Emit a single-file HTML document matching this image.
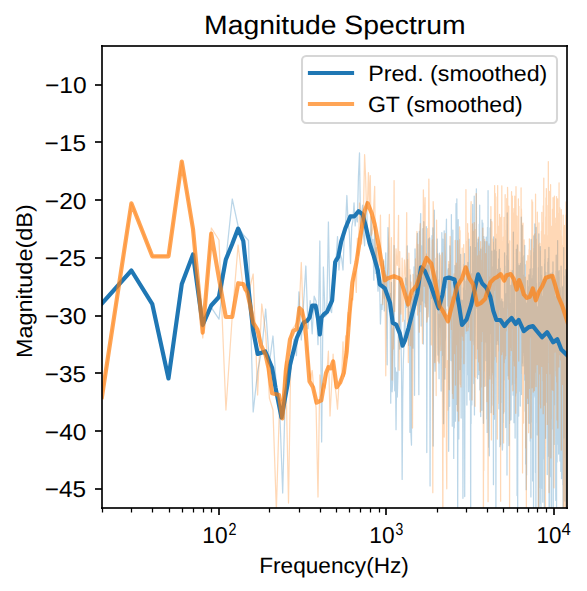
<!DOCTYPE html>
<html><head><meta charset="utf-8"><title>Magnitude Spectrum</title><style>
html,body{margin:0;padding:0;background:#fff;}
svg{display:block;}
text{font-family:"Liberation Sans",sans-serif;fill:#000;text-rendering:geometricPrecision;}
</style></head><body>
<svg width="587" height="591" viewBox="0 0 587 591">
<rect width="587" height="591" fill="#fff"/>
<defs><clipPath id="ax"><rect x="102.0" y="46.0" width="465.00" height="462.00"/></clipPath></defs>
<g clip-path="url(#ax)" fill="none" stroke-linejoin="round" stroke-linecap="square">
<polyline points="101.92,303.6 131.42,270.5 152.35,304.4 168.58,377.9 181.84,283.9 193.05,254.9 202.77,327.3 211.34,307.6 219.00,319.2 225.93,259.6 232.26,199.0 238.09,226.0 243.48,235.0 248.50,240.5 253.19,412.0 257.60,371.7 261.76,350.0 265.69,309.0 269.42,362.8 272.97,336.0 276.36,385.9 279.59,405.8 282.69,493.0 285.65,378.3 288.51,370.0 291.25,368.9 293.90,339.1 296.45,355.6 298.92,291.8 301.30,340.0 303.61,302.6 305.85,266.0 308.02,328.7 310.13,300.6 312.18,333.8 314.17,296.2 316.11,301.2 318.00,344.7 319.85,241.0 321.64,442.0 323.39,267.0 325.11,316.7 326.78,314.7 328.41,222.0 330.01,309.3 331.58,312.6 333.11,283.5 334.61,258.9 336.08,260.1 337.52,236.6 338.93,270.0 340.32,254.5 341.68,258.7 343.01,270.0 344.32,234.2 345.61,224.9 346.87,195.5 348.12,223.0 349.34,231.9 350.54,263.6 351.73,227.2 352.89,220.6 354.04,202.8 355.16,225.9 356.27,214.0 357.37,221.8 358.45,176.2 359.51,152.9 360.55,228.1 361.59,214.1 362.60,205.2 363.61,235.6 364.60,245.8 365.57,209.0 366.54,201.5 367.49,234.5 368.43,240.2 369.35,246.5 370.27,247.0 371.17,216.7 372.06,254.6 372.95,239.3 373.82,280.2 374.68,226.4 375.53,273.5 376.37,247.7 377.20,277.3 378.02,291.1 378.84,280.4 379.64,283.9 380.43,324.0 381.22,304.3 382.00,309.4 382.77,290.1 383.53,261.0 384.28,310.9 385.03,275.5 385.77,252.8 386.50,302.5 387.22,364.8 387.94,227.6 388.65,245.8 389.35,311.6 390.05,293.3 390.74,403.2 391.42,282.3 392.10,391.8 392.77,380.0 393.43,317.9 394.09,245.5 394.74,390.8 395.39,367.8 396.03,429.7 396.67,372.2 397.30,397.0 397.92,374.5 398.54,317.9 399.15,268.4 399.76,349.1 400.37,281.2 400.97,338.9 401.56,371.6 402.15,479.4 402.73,398.4 403.31,363.3 403.89,346.0 404.46,320.4 405.02,343.4 405.59,277.8 406.14,291.2 406.70,307.4 407.25,245.9 407.79,304.9 408.33,306.4 408.87,345.4 409.40,312.1 409.93,432.3 410.45,275.0 410.98,434.8 411.49,445.1 412.01,296.6 412.52,304.9 413.03,348.2 413.53,290.8 414.03,266.9 414.53,395.3 415.02,248.8 415.51,284.9 416.00,305.2 416.48,275.2 416.96,279.0 417.44,233.4 417.91,282.3 418.38,329.9 418.85,394.7 419.31,231.3 419.78,311.7 420.23,236.8 420.69,213.6 421.14,326.0 421.59,245.9 422.04,300.9 422.49,273.6 422.93,228.7 423.37,344.0 423.81,221.7 424.24,302.6 424.67,272.5 425.10,306.6 425.53,266.2 425.95,303.4 426.37,226.6 426.79,452.5 427.21,313.1 427.62,265.5 428.04,283.9 428.45,238.9 428.85,309.5 429.26,316.4 429.66,237.9 430.06,485.9 430.46,311.2 430.86,280.2 431.25,282.1 431.64,298.3 432.03,235.7 432.42,284.5 432.81,227.8 433.19,446.0 433.57,358.8 433.95,279.2 434.33,210.2 434.71,356.2 435.08,371.2 435.45,350.4 435.82,276.1 436.19,293.8 436.56,270.7 436.92,287.9 437.29,239.0 437.65,301.2 438.01,355.1 438.36,280.1 438.72,342.4 439.07,378.7 439.43,253.0 439.78,327.0 440.12,317.2 440.47,312.5 440.82,338.0 441.16,391.1 441.50,330.5 441.84,232.7 442.18,319.9 442.52,355.3 442.86,239.1 443.19,387.4 443.52,423.7 443.86,350.2 444.19,230.8 444.51,257.1 444.84,379.0 445.17,342.5 445.49,336.3 445.81,258.3 446.13,234.7 446.45,219.2 446.77,287.5 447.09,269.9 447.41,276.4 447.72,305.9 448.03,279.0 448.34,268.6 448.65,451.3 448.96,354.0 449.27,264.5 449.58,406.3 449.88,245.8 450.19,304.8 450.49,255.3 450.79,302.5 451.09,360.6 451.39,214.6 451.69,292.2 451.98,302.0 452.28,426.2 452.57,270.0 452.86,230.1 453.15,318.5 453.45,276.8 453.73,458.4 454.02,352.8 454.31,427.8 454.60,293.4 454.88,265.6 455.16,276.3 455.45,421.2 455.73,395.5 456.01,203.6 456.29,363.9 456.57,404.3 456.84,198.9 457.12,262.6 457.39,252.7 457.67,525.4 457.94,403.8 458.21,219.5 458.48,253.7 458.75,438.9 459.02,239.5 459.29,266.7 459.56,367.8 459.82,369.6 460.09,323.5 460.35,368.8 460.62,254.4 460.88,338.8 461.14,418.0 461.40,311.0 461.66,336.6 461.92,300.0 462.17,300.5 462.43,342.6 462.69,372.8 462.94,498.3 463.20,431.0 463.45,287.8 463.70,348.9 463.95,264.6 464.20,360.7 464.45,253.5 464.70,496.5 464.95,374.1 465.20,344.5 465.44,290.3 465.69,333.5 465.93,281.2 466.17,281.2 466.42,293.3 466.66,266.4 466.90,405.1 467.14,272.1 467.38,374.8 467.62,293.2 467.86,262.5 468.10,293.6 468.33,316.8 468.57,391.7 468.80,347.6 469.04,239.2 469.27,360.1 469.50,364.9 469.74,364.7 469.97,400.1 470.20,379.5 470.43,246.7 470.66,538.0 470.88,354.6 471.11,423.4 471.34,273.9 471.57,367.6 471.79,404.9 472.02,378.5 472.24,336.5 472.46,267.7 472.69,204.5 472.91,333.9 473.13,262.1 473.35,341.0 473.57,295.1 473.79,383.5 474.01,290.1 474.23,196.0 474.45,414.9 474.66,277.8 474.88,358.7 475.09,340.0 475.31,315.2 475.52,247.5 475.74,266.3 475.95,295.3 476.16,267.2 476.37,188.8 476.58,306.0 476.80,308.2 477.01,302.9 477.21,243.1 477.42,335.0 477.63,378.7 477.84,299.6 478.05,239.0 478.25,244.0 478.46,373.9 478.66,269.4 478.87,374.5 479.07,330.9 479.28,224.2 479.48,321.6 479.68,205.0 479.88,389.9 480.08,274.3 480.28,290.2 480.48,313.3 480.68,416.5 480.88,249.1 481.08,347.4 481.28,336.1 481.48,269.7 481.67,252.5 481.87,410.3 482.07,220.2 482.26,247.7 482.46,243.6 482.65,304.4 482.84,223.2 483.04,281.8 483.23,336.0 483.42,423.3 483.61,290.9 483.80,236.5 484.00,304.3 484.19,386.4 484.38,330.0 484.56,308.7 484.75,247.1 484.94,241.7 485.13,309.3 485.32,251.2 485.50,342.0 485.69,285.2 485.88,327.3 486.06,360.7 486.25,237.0 486.43,282.9 486.61,242.0 486.80,418.9 486.98,311.9 487.16,432.4 487.35,242.5 487.53,227.4 487.71,276.7 487.89,268.1 488.07,190.6 488.25,313.0 488.43,378.3 488.61,415.1 488.79,447.3 488.96,286.3 489.14,244.0 489.32,455.8 489.50,250.6 489.67,289.9 489.85,316.4 490.02,227.8 490.20,310.1 490.37,263.3 490.55,333.8 490.72,219.3 490.89,342.6 491.07,412.7 491.24,403.7 491.41,318.8 491.58,325.5 491.76,256.5 491.93,251.1 492.10,322.9 492.27,266.7 492.44,337.7 492.61,374.9 492.77,341.3 492.94,405.2 493.11,308.6 493.28,404.7 493.45,484.7 493.61,236.9 493.78,335.0 493.95,300.8 494.11,255.5 494.28,369.1 494.44,419.2 494.61,330.3 494.77,250.2 494.94,376.5 495.10,262.9 495.26,355.8 495.43,292.6 495.59,271.6 495.75,238.9 495.91,538.0 496.07,354.9 496.24,251.4 496.40,338.3 496.56,344.4 496.72,339.5 496.88,325.6 497.04,289.2 497.19,340.5 497.35,322.9 497.51,287.6 497.67,269.3 497.83,276.8 497.98,317.3 498.14,297.9 498.30,344.5 498.45,323.6 498.61,259.0 498.77,276.9 498.92,408.8 499.08,318.4 499.23,254.2 499.39,249.5 499.54,392.8 499.69,344.5 499.85,446.7 500.00,310.9 500.15,268.4 500.30,429.8 500.46,444.7 500.61,402.4 500.76,334.9 500.91,323.3 501.06,329.1 501.21,332.6 501.36,301.0 501.51,347.7 501.66,323.2 501.81,299.0 501.96,402.4 502.11,309.2 502.26,444.0 502.40,450.0 502.55,446.9 502.70,301.8 502.85,422.4 502.99,320.8 503.14,382.5 503.29,308.0 503.43,353.1 503.58,413.2 503.72,381.9 503.87,347.4 504.01,380.1 504.16,327.8 504.30,301.5 504.45,336.9 504.59,252.8 504.73,284.0 504.88,266.2 505.02,315.7 505.16,362.6 505.30,304.3 505.44,337.4 505.59,346.6 505.73,427.5 505.87,296.5 506.01,353.8 506.15,293.6 506.29,348.3 506.43,304.2 506.57,331.4 506.71,298.6 506.85,255.6 506.99,475.1 507.13,304.3 507.27,212.9 507.40,315.6 507.54,290.4 507.68,341.1 507.82,375.5 507.95,283.3 508.09,243.8 508.23,325.1 508.36,260.1 508.50,373.7 508.64,307.9 508.77,313.5 508.91,445.6 509.04,443.6 509.18,274.0 509.31,272.6 509.44,423.4 509.58,417.8 509.71,325.8 509.85,303.4 509.98,309.5 510.11,409.9 510.25,398.5 510.38,389.9 510.51,383.7 510.64,420.1 510.77,285.3 510.91,306.7 511.04,419.7 511.17,404.4 511.30,344.1 511.43,288.3 511.56,353.6 511.69,384.8 511.82,273.2 511.95,291.2 512.08,330.3 512.21,270.7 512.34,331.0 512.47,382.9 512.60,309.2 512.73,322.1 512.85,271.4 512.98,336.9 513.11,395.2 513.24,304.5 513.36,232.0 513.49,299.3 513.62,341.6 513.74,281.2 513.87,332.0 514.00,422.7 514.12,330.6 514.25,302.0 514.37,335.7 514.50,282.2 514.62,390.4 514.75,322.0 514.87,418.3 515.00,386.9 515.12,438.1 515.25,332.3 515.37,319.9 515.49,396.0 515.62,383.9 515.74,327.3 515.86,378.1 515.99,325.2 516.11,317.6 516.23,351.2 516.35,249.3 516.48,352.8 516.60,259.5 516.72,286.1 516.84,272.0 516.96,303.2 517.08,495.5 517.20,380.2 517.32,244.9 517.44,251.5 517.56,245.6 517.68,538.0 517.80,365.1 517.92,263.4 518.04,364.6 518.16,416.0 518.28,335.5 518.40,334.1 518.52,319.1 518.64,416.1 518.75,280.1 518.87,298.0 518.99,366.8 519.11,353.0 519.23,265.4 519.34,348.9 519.46,373.2 519.58,391.2 519.69,321.4 519.81,306.3 519.93,330.9 520.04,280.7 520.16,346.2 520.27,406.1 520.39,298.3 520.50,263.3 520.62,288.3 520.74,315.6 520.85,364.8 520.96,321.3 521.08,394.5 521.19,368.9 521.31,217.2 521.42,394.4 521.54,330.2 521.65,291.7 521.76,363.3 521.88,300.0 521.99,345.2 522.10,225.6 522.21,328.4 522.33,257.3 522.44,278.2 522.55,344.7 522.66,360.5 522.77,285.9 522.89,275.0 523.00,365.9 523.11,338.3 523.22,356.3 523.33,340.4 523.44,321.9 523.55,352.2 523.66,334.3 523.77,313.5 523.88,297.3 523.99,255.9 524.10,301.7 524.21,292.7 524.32,345.5 524.43,313.4 524.54,301.7 524.65,380.2 524.76,245.4 524.87,315.6 524.98,306.2 525.08,319.3 525.19,411.3 525.30,264.7 525.41,346.4 525.52,371.4 525.62,464.1 525.73,318.8 525.84,369.9 525.95,387.2 526.05,440.2 526.16,489.7 526.27,465.8 526.37,303.1 526.48,468.7 526.58,475.1 526.69,389.0 526.80,304.4 526.90,376.4 527.01,394.8 527.11,341.2 527.22,304.0 527.32,293.0 527.43,280.7 527.53,335.1 527.64,352.0 527.74,361.7 527.85,403.5 527.95,298.1 528.05,286.6 528.16,310.4 528.26,361.7 528.37,288.9 528.47,396.8 528.57,292.4 528.67,316.8 528.78,363.3 528.88,403.5 528.98,274.8 529.09,423.3 529.19,365.8 529.29,312.2 529.39,310.8 529.49,418.2 529.60,353.1 529.70,386.1 529.80,339.5 529.90,356.9 530.00,308.3 530.10,269.2 530.20,311.9 530.30,441.1 530.41,308.5 530.51,343.5 530.61,378.5 530.71,272.9 530.81,301.4 530.91,496.9 531.01,265.9 531.11,239.5 531.21,422.3 531.31,299.6 531.40,364.7 531.50,343.3 531.60,335.1 531.70,368.3 531.80,291.0 531.90,388.5 532.00,354.0 532.10,336.8 532.19,329.0 532.29,278.6 532.39,332.4 532.49,316.5 532.59,480.9 532.68,353.5 532.78,275.5 532.88,276.1 532.98,382.5 533.07,268.7 533.17,328.9 533.27,289.2 533.36,295.1 533.46,413.9 533.56,538.0 533.65,298.5 533.75,235.8 533.84,358.9 533.94,397.3 534.04,361.5 534.13,286.8 534.23,278.6 534.32,366.7 534.42,261.1 534.51,280.9 534.61,362.0 534.70,345.3 534.80,223.9 534.89,291.5 534.99,321.6 535.08,233.3 535.18,285.1 535.27,395.9 535.36,306.2 535.46,303.1 535.55,472.4 535.65,308.2 535.74,233.7 535.83,322.1 535.93,533.1 536.02,295.1 536.11,324.1 536.21,227.4 536.30,320.9 536.39,386.1 536.48,283.4 536.58,327.6 536.67,294.5 536.76,422.4 536.85,307.1 536.94,343.2 537.04,365.2 537.13,375.6 537.22,318.3 537.31,434.9 537.40,343.5 537.49,320.0 537.59,430.2 537.68,390.8 537.77,306.8 537.86,318.9 537.95,335.7 538.04,345.2 538.13,356.5 538.22,323.1 538.31,339.2 538.40,515.3 538.49,267.7 538.58,295.6 538.67,294.7 538.76,358.9 538.85,233.9 538.94,311.5 539.03,372.0 539.12,282.3 539.21,506.4 539.30,372.9 539.39,369.9 539.48,466.7 539.56,406.7 539.65,407.5 539.74,358.5 539.83,359.8 539.92,353.0 540.01,304.2 540.09,326.3 540.18,322.9 540.27,364.0 540.36,246.7 540.45,487.4 540.53,329.1 540.62,359.2 540.71,503.7 540.80,412.3 540.88,370.3 540.97,517.2 541.06,309.3 541.14,421.3 541.23,451.8 541.32,449.0 541.40,356.9 541.49,423.5 541.58,313.5 541.66,275.1 541.75,379.5 541.83,266.7 541.92,328.2 542.01,406.4 542.09,488.3 542.18,341.4 542.26,393.3 542.35,345.0 542.43,377.7 542.52,334.9 542.60,302.3 542.69,304.3 542.77,502.2 542.86,350.7 542.94,407.0 543.03,296.2 543.11,401.4 543.20,458.5 543.28,365.0 543.37,341.2 543.45,279.4 543.53,306.3 543.62,314.0 543.70,309.6 543.79,338.1 543.87,332.1 543.95,343.0 544.04,318.3 544.12,344.4 544.20,353.9 544.29,481.2 544.37,529.2 544.45,354.3 544.54,336.4 544.62,264.0 544.70,399.8 544.78,394.8 544.87,259.1 544.95,294.0 545.03,249.5 545.11,260.5 545.20,364.4 545.28,362.6 545.36,406.4 545.44,299.5 545.52,327.9 545.60,438.3 545.69,286.4 545.77,387.0 545.85,272.4 545.93,384.9 546.01,344.3 546.09,297.0 546.17,354.4 546.25,335.5 546.34,351.0 546.42,402.0 546.50,304.9 546.58,334.5 546.66,335.3 546.74,278.8 546.82,281.7 546.90,330.3 546.98,354.9 547.06,330.6 547.14,352.5 547.22,361.6 547.30,474.5 547.38,293.4 547.46,325.5 547.54,275.8 547.62,333.6 547.70,376.3 547.78,346.8 547.86,262.1 547.93,456.2 548.01,363.2 548.09,308.8 548.17,348.5 548.25,258.4 548.33,360.2 548.41,317.4 548.49,345.8 548.56,348.0 548.64,405.8 548.72,375.9 548.80,349.9 548.88,247.3 548.96,297.4 549.03,307.4 549.11,511.5 549.19,274.2 549.27,401.7 549.34,359.6 549.42,317.5 549.50,309.1 549.58,304.7 549.65,274.1 549.73,521.6 549.81,350.2 549.88,428.3 549.96,340.0 550.04,335.7 550.12,297.3 550.19,299.1 550.27,476.7 550.35,325.4 550.42,336.6 550.50,367.0 550.57,352.2 550.65,277.7 550.73,344.1 550.80,273.7 550.88,350.7 550.95,371.7 551.03,290.3 551.11,427.8 551.18,335.8 551.26,385.1 551.33,384.7 551.41,395.6 551.48,275.9 551.56,517.4 551.63,298.7 551.71,308.9 551.78,311.4 551.86,311.7 551.93,290.3 552.01,360.1 552.08,415.1 552.16,337.4 552.23,334.8 552.31,334.6 552.38,272.3 552.46,354.4 552.53,379.6 552.60,330.9 552.68,428.8 552.75,307.7 552.83,404.7 552.90,411.8 552.97,261.9 553.05,304.4 553.12,382.5 553.20,395.0 553.27,538.0 553.34,356.4 553.42,323.5 553.49,385.6 553.56,283.5 553.64,353.5 553.71,322.3 553.78,383.7 553.85,311.8 553.93,405.6 554.00,297.2 554.07,444.4 554.15,362.0 554.22,279.8 554.29,290.5 554.36,283.3 554.44,299.7 554.51,355.3 554.58,332.3 554.65,305.3 554.72,358.6 554.80,321.6 554.87,343.0 554.94,319.3 555.01,404.5 555.08,347.5 555.15,299.7 555.23,333.9 555.30,302.8 555.37,306.8 555.44,353.9 555.51,296.7 555.58,308.7 555.65,317.4 555.73,491.5 555.80,500.4 555.87,310.8 555.94,385.9 556.01,378.2 556.08,270.8 556.15,331.8 556.22,255.2 556.29,318.2 556.36,437.9 556.43,469.7 556.50,478.1 556.57,514.6 556.64,361.8 556.71,308.7 556.78,389.4 556.85,363.0 556.92,292.8 556.99,291.5 557.06,462.1 557.13,369.4 557.20,343.0 557.27,307.0 557.34,322.6 557.41,426.4 557.48,354.8 557.55,338.7 557.62,240.5 557.69,341.6 557.76,345.9 557.83,309.6 557.89,287.9 557.96,342.0 558.03,444.1 558.10,316.7 558.17,437.0 558.24,337.0 558.31,346.8 558.38,331.6 558.44,272.0 558.51,281.3 558.58,358.9 558.65,454.1 558.72,355.2 558.79,303.2 558.85,325.6 558.92,329.5 558.99,298.3 559.06,353.2 559.13,270.7 559.19,288.3 559.26,276.7 559.33,341.5 559.40,324.7 559.46,427.4 559.53,324.9 559.60,435.2 559.67,287.8 559.73,356.1 559.80,421.2 559.87,351.0 559.93,461.0 560.00,375.9 560.07,404.7 560.14,290.7 560.20,306.3 560.27,389.3 560.34,339.6 560.40,354.5 560.47,310.4 560.54,307.2 560.60,406.0 560.67,413.3 560.73,391.9 560.80,471.4 560.87,307.3 560.93,316.8 561.00,349.2 561.07,266.1 561.13,397.2 561.20,343.9 561.26,334.0 561.33,379.9 561.39,328.9 561.46,298.2 561.53,478.5 561.59,357.4 561.66,355.6 561.72,362.7 561.79,382.5 561.85,375.9 561.92,323.9 561.98,460.4 562.05,392.9 562.11,332.6 562.18,363.7 562.24,428.7 562.31,354.4 562.37,446.2 562.44,474.2 562.50,330.8 562.57,286.8 562.63,353.9 562.70,328.5 562.76,396.0 562.83,484.7 562.89,353.9 562.95,344.9 563.02,321.3 563.08,486.5 563.15,538.0 563.21,362.0 563.28,355.1 563.34,350.7 563.40,328.9 563.47,285.5 563.53,349.2 563.60,314.7 563.66,438.1 563.72,247.5 563.79,279.0 563.85,434.6 563.91,341.3 563.98,320.7 564.04,391.1 564.10,332.3 564.17,389.3 564.23,327.3 564.29,336.3 564.36,421.7 564.42,417.2 564.48,432.6 564.55,340.9 564.61,378.7 564.67,328.9 564.73,324.6 564.80,364.8 564.86,457.9 564.92,317.1 564.98,501.1 565.05,319.0 565.11,334.7 565.17,320.0 565.23,319.2 565.30,362.0 565.36,275.9 565.42,303.3 565.48,432.0 565.55,424.9 565.61,487.2 565.67,269.5 565.73,366.7 565.79,444.2 565.86,538.0 565.92,289.7 565.98,397.5 566.04,408.6 566.10,370.1 566.16,336.8 566.22,309.5 566.29,359.9 566.35,311.7 566.41,304.0 566.47,326.5 566.53,380.6 566.59,366.4 566.65,517.1 566.72,307.4 566.78,382.1 566.84,355.0 566.90,319.5 566.96,335.9 567.02,316.0 567.08,368.0 567.14,271.9 567.20,343.1 567.26,355.5" stroke="#1f77b4" stroke-opacity="0.3" stroke-width="1.25"/>
<polyline points="101.92,396.9 131.42,203.3 152.35,256.3 168.58,255.7 181.84,161.7 193.05,229.6 202.77,338.0 211.34,228.0 219.00,240.0 225.93,410.0 232.26,316.0 238.09,245.0 243.48,290.0 248.50,292.9 253.19,274.0 257.60,395.0 261.76,304.0 265.69,333.1 269.42,398.2 272.97,410.0 276.36,510.0 279.59,401.5 282.69,399.8 285.65,361.5 288.51,503.0 291.25,330.6 293.90,327.1 296.45,322.7 298.92,315.5 301.30,262.5 303.61,331.3 305.85,341.3 308.02,353.3 310.13,381.2 312.18,370.5 314.17,393.3 316.11,408.2 318.00,497.0 319.85,375.0 321.64,395.2 323.39,383.5 325.11,388.2 326.78,374.3 328.41,351.2 330.01,416.0 331.58,385.8 333.11,354.2 334.61,383.7 336.08,394.0 337.52,409.1 338.93,384.1 340.32,383.2 341.68,375.7 343.01,341.8 344.32,376.3 345.61,335.8 346.87,357.8 348.12,312.5 349.34,326.2 350.54,308.1 351.73,298.4 352.89,299.9 354.04,274.4 355.16,271.4 356.27,292.4 357.37,238.1 358.45,255.6 359.51,203.0 360.55,220.9 361.59,244.0 362.60,225.5 363.61,204.6 364.60,154.7 365.57,176.0 366.54,208.9 367.49,204.2 368.43,172.6 369.35,204.1 370.27,175.7 371.17,235.5 372.06,233.4 372.95,224.9 373.82,204.3 374.68,186.4 375.53,267.0 376.37,238.5 377.20,277.4 378.02,244.1 378.84,266.3 379.64,264.7 380.43,215.2 381.22,262.6 382.00,274.0 382.77,304.6 383.53,259.6 384.28,298.2 385.03,281.8 385.77,375.8 386.50,275.2 387.22,277.1 387.94,267.2 388.65,245.8 389.35,214.4 390.05,284.1 390.74,302.0 391.42,237.6 392.10,380.1 392.77,328.8 393.43,349.0 394.09,180.6 394.74,311.4 395.39,291.3 396.03,248.8 396.67,260.9 397.30,265.3 397.92,250.3 398.54,215.3 399.15,370.3 399.76,251.6 400.37,309.0 400.97,314.1 401.56,298.5 402.15,258.2 402.73,321.6 403.31,319.9 403.89,282.8 404.46,260.0 405.02,267.9 405.59,276.2 406.14,284.8 406.70,212.7 407.25,325.0 407.79,259.7 408.33,362.5 408.87,253.1 409.40,286.3 409.93,269.6 410.45,345.7 410.98,282.0 411.49,311.4 412.01,369.2 412.52,428.0 413.03,274.3 413.53,296.9 414.03,304.5 414.53,299.7 415.02,295.6 415.51,258.9 416.00,297.8 416.48,248.3 416.96,231.5 417.44,315.1 417.91,244.4 418.38,266.0 418.85,261.0 419.31,332.2 419.78,232.0 420.23,223.6 420.69,304.7 421.14,265.8 421.59,291.7 422.04,310.8 422.49,343.6 422.93,265.1 423.37,189.8 423.81,213.4 424.24,286.2 424.67,217.5 425.10,197.7 425.53,307.2 425.95,301.8 426.37,254.0 426.79,322.0 427.21,318.5 427.62,228.7 428.04,317.1 428.45,244.8 428.85,179.1 429.26,230.5 429.66,247.6 430.06,269.5 430.46,284.2 430.86,282.5 431.25,344.9 431.64,336.7 432.03,273.4 432.42,240.0 432.81,492.7 433.19,201.6 433.57,215.5 433.95,292.4 434.33,284.8 434.71,362.5 435.08,291.4 435.45,356.5 435.82,258.5 436.19,395.5 436.56,220.0 436.92,281.2 437.29,253.6 437.65,254.2 438.01,361.1 438.36,313.9 438.72,315.1 439.07,363.0 439.43,346.3 439.78,339.9 440.12,255.2 440.47,260.6 440.82,350.6 441.16,304.1 441.50,301.8 441.84,276.0 442.18,252.8 442.52,419.7 442.86,538.0 443.19,316.3 443.52,300.0 443.86,334.1 444.19,437.0 444.51,320.6 444.84,322.6 445.17,233.6 445.49,367.4 445.81,350.5 446.13,309.3 446.45,456.6 446.77,488.8 447.09,368.3 447.41,360.7 447.72,410.2 448.03,371.4 448.34,382.2 448.65,261.5 448.96,329.2 449.27,389.7 449.58,267.2 449.88,279.3 450.19,236.5 450.49,268.0 450.79,301.1 451.09,319.3 451.39,329.4 451.69,302.7 451.98,296.8 452.28,366.8 452.57,393.4 452.86,373.6 453.15,398.5 453.45,349.3 453.73,303.2 454.02,273.9 454.31,353.6 454.60,353.0 454.88,328.3 455.16,240.4 455.45,385.1 455.73,264.7 456.01,344.0 456.29,263.2 456.57,282.0 456.84,344.9 457.12,336.5 457.39,411.1 457.67,240.7 457.94,280.0 458.21,328.4 458.48,322.7 458.75,420.9 459.02,304.2 459.29,257.8 459.56,226.8 459.82,298.5 460.09,230.5 460.35,384.3 460.62,309.0 460.88,386.9 461.14,329.6 461.40,334.5 461.66,283.1 461.92,267.9 462.17,248.1 462.43,336.2 462.69,277.6 462.94,280.1 463.20,340.3 463.45,286.0 463.70,244.6 463.95,363.7 464.20,299.6 464.45,279.4 464.70,297.2 464.95,307.2 465.20,299.3 465.44,291.9 465.69,318.0 465.93,189.6 466.17,302.9 466.42,331.0 466.66,241.4 466.90,254.6 467.14,288.7 467.38,270.4 467.62,223.7 467.86,330.7 468.10,311.7 468.33,233.0 468.57,327.1 468.80,291.6 469.04,319.2 469.27,279.0 469.50,275.3 469.74,317.4 469.97,299.1 470.20,271.0 470.43,340.2 470.66,219.2 470.88,208.5 471.11,201.7 471.34,328.9 471.57,277.9 471.79,343.1 472.02,399.9 472.24,295.2 472.46,223.8 472.69,284.8 472.91,258.5 473.13,231.3 473.35,264.7 473.57,275.7 473.79,272.7 474.01,344.8 474.23,222.5 474.45,305.2 474.66,376.8 474.88,303.1 475.09,406.3 475.31,229.7 475.52,349.3 475.74,373.0 475.95,377.4 476.16,193.5 476.37,301.8 476.58,358.5 476.80,305.9 477.01,315.4 477.21,326.2 477.42,349.0 477.63,255.8 477.84,347.6 478.05,315.5 478.25,295.6 478.46,237.2 478.66,361.9 478.87,333.7 479.07,251.0 479.28,292.2 479.48,370.3 479.68,258.7 479.88,255.6 480.08,266.8 480.28,411.9 480.48,261.6 480.68,241.7 480.88,386.9 481.08,305.6 481.28,287.4 481.48,333.8 481.67,341.5 481.87,289.9 482.07,260.2 482.26,268.1 482.46,247.4 482.65,331.3 482.84,228.0 483.04,251.2 483.23,288.9 483.42,538.0 483.61,308.6 483.80,470.4 484.00,280.6 484.19,371.3 484.38,334.8 484.56,239.4 484.75,313.1 484.94,319.7 485.13,304.0 485.32,295.0 485.50,386.1 485.69,253.7 485.88,322.4 486.06,323.1 486.25,328.8 486.43,300.0 486.61,342.1 486.80,241.7 486.98,401.6 487.16,317.9 487.35,345.5 487.53,360.6 487.71,338.1 487.89,284.3 488.07,501.7 488.25,419.4 488.43,341.7 488.61,298.6 488.79,271.4 488.96,246.0 489.14,338.4 489.32,375.1 489.50,285.4 489.67,343.4 489.85,379.0 490.02,315.9 490.20,276.8 490.37,303.6 490.55,342.1 490.72,333.4 490.89,206.6 491.07,275.7 491.24,321.0 491.41,439.9 491.58,265.6 491.76,221.7 491.93,222.7 492.10,355.3 492.27,372.6 492.44,280.4 492.61,255.0 492.77,239.2 492.94,323.9 493.11,383.7 493.28,301.0 493.45,414.4 493.61,371.9 493.78,290.3 493.95,360.0 494.11,242.2 494.28,290.1 494.44,290.4 494.61,185.6 494.77,250.0 494.94,284.8 495.10,255.1 495.26,193.7 495.43,231.4 495.59,249.0 495.75,238.0 495.91,356.6 496.07,280.0 496.24,254.7 496.40,279.4 496.56,234.2 496.72,362.2 496.88,295.6 497.04,274.4 497.19,196.8 497.35,439.1 497.51,241.8 497.67,185.5 497.83,403.4 497.98,398.8 498.14,244.8 498.30,226.0 498.45,350.9 498.61,258.7 498.77,275.7 498.92,298.0 499.08,309.7 499.23,304.9 499.39,232.9 499.54,214.3 499.69,281.0 499.85,228.0 500.00,217.4 500.15,325.6 500.30,296.5 500.46,243.3 500.61,501.2 500.76,242.0 500.91,327.9 501.06,332.7 501.21,217.6 501.36,237.7 501.51,216.6 501.66,354.6 501.81,185.8 501.96,250.3 502.11,351.9 502.26,268.8 502.40,241.3 502.55,327.2 502.70,261.4 502.85,292.8 502.99,343.6 503.14,266.8 503.29,237.0 503.43,366.0 503.58,442.9 503.72,361.4 503.87,288.9 504.01,217.3 504.16,411.7 504.30,334.4 504.45,292.9 504.59,345.2 504.73,293.1 504.88,281.2 505.02,358.8 505.16,194.7 505.30,314.9 505.44,239.5 505.59,355.8 505.73,230.3 505.87,239.2 506.01,259.5 506.15,330.9 506.29,315.6 506.43,304.2 506.57,284.9 506.71,198.7 506.85,327.0 506.99,208.5 507.13,254.5 507.27,288.8 507.40,295.7 507.54,187.3 507.68,193.7 507.82,216.2 507.95,259.7 508.09,277.6 508.23,308.4 508.36,222.8 508.50,379.1 508.64,281.4 508.77,206.2 508.91,312.7 509.04,258.4 509.18,312.0 509.31,369.5 509.44,272.5 509.58,533.1 509.71,240.8 509.85,356.1 509.98,274.9 510.11,294.0 510.25,314.7 510.38,299.2 510.51,344.9 510.64,301.1 510.77,278.2 510.91,347.4 511.04,270.0 511.17,292.9 511.30,350.5 511.43,231.7 511.56,191.7 511.69,260.8 511.82,308.1 511.95,264.6 512.08,328.3 512.21,245.3 512.34,196.2 512.47,244.1 512.60,287.4 512.73,256.7 512.85,390.8 512.98,212.9 513.11,360.1 513.24,353.6 513.36,254.0 513.49,330.5 513.62,360.9 513.74,285.8 513.87,208.5 514.00,349.4 514.12,220.4 514.25,306.1 514.37,365.8 514.50,291.5 514.62,276.9 514.75,196.2 514.87,363.8 515.00,282.8 515.12,303.0 515.25,303.5 515.37,277.4 515.49,384.1 515.62,321.3 515.74,413.3 515.86,316.2 515.99,186.5 516.11,217.4 516.23,337.1 516.35,392.9 516.48,264.2 516.60,235.4 516.72,248.4 516.84,242.7 516.96,216.0 517.08,232.6 517.20,286.8 517.32,322.5 517.44,324.3 517.56,304.2 517.68,279.5 517.80,293.4 517.92,305.2 518.04,243.9 518.16,285.0 518.28,302.4 518.40,198.9 518.52,280.7 518.64,229.2 518.75,361.1 518.87,206.3 518.99,298.5 519.11,268.5 519.23,255.3 519.34,257.0 519.46,255.4 519.58,252.2 519.69,313.9 519.81,287.4 519.93,320.9 520.04,287.8 520.16,257.8 520.27,306.0 520.39,284.4 520.50,279.8 520.62,267.9 520.74,322.7 520.85,276.5 520.96,258.2 521.08,187.8 521.19,285.5 521.31,277.2 521.42,208.8 521.54,214.0 521.65,286.4 521.76,258.3 521.88,279.6 521.99,365.9 522.10,243.4 522.21,373.4 522.33,225.2 522.44,293.6 522.55,472.9 522.66,311.9 522.77,371.0 522.89,299.2 523.00,223.0 523.11,271.9 523.22,305.3 523.33,261.0 523.44,316.7 523.55,423.0 523.66,312.5 523.77,353.1 523.88,333.1 523.99,251.6 524.10,239.9 524.21,374.1 524.32,353.4 524.43,349.0 524.54,278.6 524.65,296.8 524.76,352.5 524.87,353.1 524.98,351.9 525.08,294.9 525.19,286.2 525.30,277.1 525.41,331.3 525.52,334.5 525.62,384.0 525.73,447.9 525.84,293.8 525.95,313.3 526.05,360.4 526.16,309.9 526.27,333.1 526.37,522.1 526.48,369.8 526.58,261.2 526.69,398.2 526.80,317.7 526.90,314.7 527.01,316.1 527.11,353.2 527.22,292.8 527.32,327.0 527.43,389.3 527.53,356.7 527.64,398.2 527.74,261.5 527.85,255.5 527.95,308.6 528.05,393.1 528.16,344.4 528.26,302.2 528.37,275.3 528.47,306.5 528.57,432.7 528.67,311.1 528.78,358.5 528.88,316.6 528.98,298.5 529.09,249.6 529.19,281.9 529.29,388.4 529.39,238.9 529.49,304.3 529.60,333.3 529.70,256.8 529.80,255.9 529.90,332.4 530.00,290.9 530.10,282.2 530.20,328.5 530.30,336.9 530.41,306.8 530.51,279.2 530.61,272.2 530.71,326.6 530.81,250.6 530.91,309.1 531.01,438.1 531.11,324.2 531.21,314.6 531.31,337.0 531.40,354.6 531.50,325.1 531.60,238.7 531.70,354.7 531.80,305.1 531.90,199.8 532.00,282.5 532.10,387.7 532.19,292.3 532.29,331.3 532.39,302.5 532.49,347.4 532.59,202.1 532.68,244.9 532.78,312.4 532.88,297.7 532.98,262.0 533.07,312.9 533.17,278.1 533.27,392.0 533.36,362.4 533.46,308.9 533.56,252.5 533.65,256.2 533.75,333.6 533.84,268.1 533.94,317.6 534.04,303.0 534.13,248.4 534.23,296.8 534.32,353.2 534.42,390.5 534.51,234.1 534.61,331.7 534.70,371.6 534.80,307.1 534.89,263.4 534.99,236.0 535.08,311.7 535.18,256.8 535.27,353.0 535.36,372.0 535.46,289.0 535.55,194.0 535.65,253.7 535.74,309.7 535.83,282.7 535.93,318.8 536.02,386.5 536.11,261.2 536.21,239.2 536.30,319.4 536.39,282.1 536.48,362.9 536.58,339.9 536.67,302.3 536.76,341.9 536.85,249.3 536.94,281.8 537.04,269.1 537.13,364.7 537.22,348.9 537.31,212.1 537.40,241.2 537.49,344.2 537.59,329.2 537.68,260.3 537.77,322.8 537.86,261.4 537.95,244.6 538.04,287.1 538.13,258.1 538.22,335.9 538.31,298.9 538.40,492.5 538.49,538.0 538.58,349.4 538.67,280.4 538.76,277.2 538.85,340.2 538.94,222.8 539.03,322.5 539.12,295.9 539.21,275.7 539.30,288.4 539.39,373.8 539.48,250.4 539.56,295.1 539.65,297.9 539.74,291.7 539.83,243.4 539.92,294.0 540.01,305.9 540.09,250.8 540.18,265.0 540.27,311.8 540.36,253.8 540.45,404.2 540.53,326.9 540.62,331.2 540.71,407.9 540.80,307.3 540.88,301.1 540.97,259.3 541.06,282.5 541.14,261.4 541.23,280.0 541.32,253.9 541.40,231.2 541.49,312.6 541.58,248.1 541.66,329.8 541.75,299.8 541.83,212.3 541.92,298.7 542.01,366.4 542.09,241.3 542.18,288.0 542.26,294.4 542.35,303.9 542.43,260.7 542.52,304.1 542.60,250.3 542.69,309.1 542.77,244.7 542.86,372.7 542.94,381.1 543.03,274.7 543.11,222.2 543.20,413.7 543.28,205.8 543.37,266.1 543.45,303.4 543.53,260.8 543.62,284.6 543.70,268.9 543.79,178.0 543.87,293.7 543.95,258.4 544.04,239.7 544.12,285.5 544.20,405.2 544.29,249.0 544.37,303.7 544.45,285.1 544.54,242.6 544.62,242.1 544.70,337.7 544.78,310.5 544.87,236.1 544.95,235.0 545.03,297.2 545.11,267.1 545.20,307.8 545.28,247.5 545.36,271.3 545.44,521.7 545.52,298.5 545.60,282.6 545.69,216.8 545.77,299.4 545.85,292.1 545.93,197.8 546.01,373.6 546.09,204.3 546.17,271.4 546.25,228.3 546.34,188.6 546.42,233.2 546.50,243.8 546.58,289.6 546.66,206.8 546.74,210.8 546.82,205.4 546.90,298.2 546.98,284.8 547.06,261.9 547.14,278.8 547.22,293.7 547.30,424.4 547.38,355.5 547.46,355.0 547.54,363.1 547.62,290.5 547.70,262.7 547.78,244.3 547.86,313.9 547.93,278.3 548.01,235.7 548.09,259.0 548.17,291.0 548.25,292.4 548.33,161.5 548.41,262.2 548.49,250.9 548.56,229.1 548.64,276.0 548.72,217.2 548.80,331.1 548.88,291.8 548.96,309.9 549.03,492.5 549.11,259.5 549.19,217.5 549.27,191.3 549.34,325.1 549.42,282.7 549.50,294.8 549.58,251.0 549.65,373.8 549.73,216.9 549.81,261.1 549.88,223.5 549.96,306.9 550.04,367.4 550.12,321.9 550.19,354.8 550.27,363.4 550.35,257.8 550.42,253.4 550.50,363.7 550.57,184.7 550.65,263.1 550.73,250.7 550.80,256.4 550.88,457.9 550.95,416.0 551.03,267.2 551.11,418.7 551.18,226.0 551.26,299.8 551.33,305.7 551.41,365.3 551.48,236.4 551.56,355.2 551.63,376.9 551.71,229.0 551.78,248.6 551.86,259.2 551.93,276.5 552.01,270.3 552.08,240.9 552.16,331.9 552.23,389.5 552.31,286.2 552.38,314.7 552.46,209.2 552.53,263.9 552.60,218.7 552.68,233.6 552.75,244.1 552.83,277.2 552.90,256.0 552.97,390.3 553.05,197.7 553.12,324.2 553.20,250.6 553.27,273.9 553.34,207.0 553.42,322.5 553.49,344.1 553.56,319.7 553.64,307.2 553.71,310.6 553.78,235.2 553.85,358.0 553.93,281.2 554.00,273.1 554.07,487.8 554.15,218.1 554.22,271.6 554.29,333.3 554.36,196.1 554.44,289.8 554.51,313.3 554.58,297.5 554.65,294.8 554.72,334.1 554.80,352.0 554.87,351.5 554.94,338.7 555.01,263.1 555.08,325.9 555.15,280.7 555.23,315.4 555.30,256.4 555.37,223.7 555.44,241.3 555.51,263.3 555.58,232.7 555.65,267.4 555.73,218.1 555.80,257.1 555.87,300.1 555.94,319.5 556.01,370.9 556.08,273.9 556.15,368.1 556.22,375.9 556.29,364.1 556.36,293.0 556.43,370.2 556.50,196.5 556.57,267.8 556.64,261.0 556.71,382.1 556.78,246.9 556.85,309.4 556.92,314.8 556.99,255.4 557.06,419.9 557.13,289.6 557.20,338.7 557.27,308.8 557.34,310.3 557.41,312.2 557.48,341.2 557.55,299.1 557.62,198.8 557.69,399.1 557.76,225.7 557.83,428.1 557.89,323.4 557.96,280.6 558.03,304.2 558.10,295.8 558.17,252.7 558.24,312.8 558.31,217.0 558.38,213.9 558.44,318.3 558.51,258.4 558.58,299.3 558.65,300.7 558.72,337.1 558.79,296.0 558.85,268.7 558.92,366.9 558.99,317.3 559.06,182.8 559.13,281.8 559.19,300.4 559.26,325.1 559.33,332.6 559.40,211.9 559.46,284.7 559.53,354.7 559.60,236.1 559.67,273.6 559.73,323.8 559.80,207.8 559.87,345.6 559.93,242.1 560.00,336.4 560.07,316.0 560.14,314.8 560.20,236.2 560.27,290.6 560.34,252.4 560.40,301.2 560.47,325.5 560.54,359.8 560.60,245.6 560.67,230.6 560.73,325.4 560.80,261.9 560.87,260.4 560.93,312.6 561.00,321.3 561.07,318.4 561.13,313.3 561.20,395.3 561.26,209.7 561.33,450.1 561.39,279.0 561.46,236.0 561.53,302.5 561.59,237.7 561.66,342.0 561.72,297.7 561.79,276.0 561.85,315.4 561.92,245.4 561.98,354.1 562.05,334.7 562.11,363.5 562.18,342.4 562.24,317.6 562.31,287.7 562.37,384.4 562.44,284.6 562.50,250.9 562.57,282.5 562.63,290.5 562.70,299.9 562.76,251.4 562.83,258.4 562.89,257.3 562.95,369.2 563.02,291.5 563.08,255.4 563.15,215.0 563.21,244.7 563.28,269.7 563.34,350.0 563.40,538.0 563.47,361.0 563.53,337.3 563.60,370.7 563.66,361.3 563.72,353.4 563.79,338.8 563.85,340.0 563.91,288.2 563.98,336.4 564.04,374.9 564.10,318.2 564.17,263.4 564.23,227.2 564.29,523.9 564.36,278.2 564.42,340.1 564.48,267.1 564.55,225.3 564.61,325.9 564.67,421.5 564.73,264.9 564.80,402.5 564.86,229.5 564.92,380.5 564.98,356.7 565.05,271.6 565.11,314.7 565.17,339.1 565.23,382.4 565.30,226.1 565.36,297.4 565.42,315.7 565.48,538.0 565.55,347.6 565.61,242.5 565.67,214.9 565.73,290.1 565.79,248.9 565.86,454.7 565.92,347.2 565.98,201.9 566.04,284.5 566.10,277.6 566.16,237.4 566.22,337.9 566.29,432.7 566.35,328.6 566.41,395.7 566.47,341.7 566.53,272.6 566.59,403.0 566.65,333.7 566.72,307.5 566.78,346.4 566.84,301.4 566.90,333.1 566.96,305.1 567.02,295.1 567.08,269.1 567.14,390.9 567.20,330.0 567.26,299.8" stroke="#ff7f0e" stroke-opacity="0.3" stroke-width="1.25"/>
<polyline points="101.9,303.6 131.4,270.5 152.3,304.2 168.5,378.5 181.8,284.0 193.0,254.5 202.7,325.0 211.2,305.5 218.9,297.0 225.8,259.6 232.2,244.0 238.1,228.6 243.3,241.0 248.3,287.0 253.1,330.0 257.7,354.0 265.3,351.5 272.1,367.7 275.6,388.1 281.5,417.5 287.5,384.7 290.0,365.0 296.8,338.0 303.6,322.6 307.0,320.9 309.6,317.5 312.1,305.6 315.6,305.6 318.1,319.2 319.8,334.5 321.5,317.5 324.1,314.1 327.0,311.8 332.1,300.6 335.2,262.0 338.2,256.9 341.2,241.7 345.3,228.5 350.4,216.3 354.4,216.3 358.5,211.2 362.6,214.3 365.6,225.5 369.7,243.7 373.7,255.9 377.8,270.1 379.8,284.3 384.9,288.4 390.0,302.6 392.7,322.8 396.2,324.6 399.8,333.4 402.6,345.7 405.0,340.4 408.5,328.1 412.1,314.1 415.6,300.0 417.3,293.4 421.0,267.3 424.8,271.0 430.3,284.1 434.1,295.2 438.7,308.3 442.4,295.2 445.2,278.5 449.0,277.6 454.5,279.4 459.2,306.4 462.0,325.0 466.6,319.4 471.3,304.5 475.0,287.8 478.1,274.4 482.2,283.5 486.2,287.5 490.3,296.7 493.3,310.9 496.4,320.0 500.4,320.0 504.5,326.1 507.5,322.0 511.6,318.0 515.7,324.1 518.7,320.0 523.8,331.2 528.8,327.1 532.9,326.1 537.0,331.2 542.0,337.3 547.1,332.2 553.2,342.3 557.3,339.3 561.3,349.4 567.5,355.5" stroke="#1f77b4" stroke-width="4.17"/>
<polyline points="101.9,397.0 131.4,203.3 152.3,256.3 168.5,256.3 181.8,161.5 193.0,229.0 202.7,332.6 211.2,233.6 218.9,278.0 225.8,317.0 232.2,317.0 238.2,283.2 243.3,284.0 247.2,292.3 250.2,305.6 253.3,322.9 257.4,329.5 261.0,345.0 265.6,355.0 268.5,368.0 272.1,393.3 279.0,395.0 282.4,418.5 285.8,371.0 290.0,339.6 293.4,331.0 296.8,329.0 299.4,308.0 301.9,310.5 305.3,326.0 307.1,351.8 309.5,381.4 313.0,387.3 316.6,402.7 321.3,400.4 326.0,373.1 328.4,367.2 330.8,368.4 333.1,361.3 336.7,387.3 340.2,382.6 343.8,373.1 346.7,351.8 349.4,314.8 352.4,282.3 356.5,262.0 360.5,235.6 364.6,211.2 367.6,203.1 371.7,213.3 374.7,224.4 378.8,245.8 382.9,270.1 384.9,280.3 387.9,278.2 394.0,276.2 399.1,278.2 400.6,279.4 404.3,291.5 408.0,304.5 411.7,291.5 416.4,285.9 421.0,272.9 426.6,258.0 431.3,263.6 435.0,280.3 439.7,306.4 443.4,312.0 448.0,321.3 452.7,302.7 457.3,285.9 462.0,278.5 465.7,267.3 469.4,278.5 473.1,284.1 477.1,304.8 481.2,302.8 485.2,298.7 490.3,282.5 494.4,278.4 497.0,277.1 500.6,274.1 504.2,280.6 506.5,275.3 510.7,274.1 513.7,278.8 516.7,289.6 519.1,280.0 521.4,286.0 523.8,294.4 526.8,297.9 529.8,296.7 532.8,288.4 535.8,300.3 538.7,292.0 542.3,286.0 545.9,277.7 549.5,276.5 552.4,275.9 555.4,286.0 558.4,296.7 562.0,305.1 567.5,322.0" stroke="#ff7f0e" stroke-opacity="0.7" stroke-width="4.17"/>
</g>
<rect x="101" y="45" width="2" height="464" fill="#000" fill-opacity="0.835"/><rect x="566" y="45" width="2" height="464" fill="#000" fill-opacity="0.835"/><rect x="101" y="45" width="467" height="2" fill="#000" fill-opacity="0.835"/><rect x="101" y="507" width="467" height="2" fill="#000" fill-opacity="0.835"/><rect x="218" y="508" width="2" height="7" fill="#000" fill-opacity="0.835"/><rect x="385" y="508" width="2" height="7" fill="#000" fill-opacity="0.835"/><rect x="553" y="508" width="2" height="7" fill="#000" fill-opacity="0.835"/><rect x="95" y="84" width="7" height="2" fill="#000" fill-opacity="0.835"/><rect x="95" y="141" width="7" height="2" fill="#000" fill-opacity="0.835"/><rect x="95" y="199" width="7" height="2" fill="#000" fill-opacity="0.835"/><rect x="95" y="257" width="7" height="2" fill="#000" fill-opacity="0.835"/><rect x="95" y="315" width="7" height="2" fill="#000" fill-opacity="0.835"/><rect x="95" y="372" width="7" height="2" fill="#000" fill-opacity="0.835"/><rect x="95" y="430" width="7" height="2" fill="#000" fill-opacity="0.835"/><rect x="95" y="488" width="7" height="2" fill="#000" fill-opacity="0.835"/><path d="M101.875 508h1.25v4.5h-1.25z M130.875 508h1.25v4.5h-1.25z M151.875 508h1.25v4.5h-1.25z M168.875 508h1.25v4.5h-1.25z M181.875 508h1.25v4.5h-1.25z M192.875 508h1.25v4.5h-1.25z M202.875 508h1.25v4.5h-1.25z M210.875 508h1.25v4.5h-1.25z M268.875 508h1.25v4.5h-1.25z M298.875 508h1.25v4.5h-1.25z M319.875 508h1.25v4.5h-1.25z M335.875 508h1.25v4.5h-1.25z M348.875 508h1.25v4.5h-1.25z M359.875 508h1.25v4.5h-1.25z M369.875 508h1.25v4.5h-1.25z M378.875 508h1.25v4.5h-1.25z M436.875 508h1.25v4.5h-1.25z M465.875 508h1.25v4.5h-1.25z M486.875 508h1.25v4.5h-1.25z M502.875 508h1.25v4.5h-1.25z M516.875 508h1.25v4.5h-1.25z M527.875 508h1.25v4.5h-1.25z M536.875 508h1.25v4.5h-1.25z M545.875 508h1.25v4.5h-1.25z" fill="#000"/>
<text x="44.91" y="92.62" font-size="23.0" textLength="41.72" lengthAdjust="spacingAndGlyphs">−10</text><text x="44.64" y="150.73" font-size="23.0" textLength="41.40" lengthAdjust="spacingAndGlyphs">−15</text><text x="44.88" y="208.69" font-size="23.0" textLength="41.62" lengthAdjust="spacingAndGlyphs">−20</text><text x="44.88" y="265.72" font-size="23.0" textLength="41.16" lengthAdjust="spacingAndGlyphs">−25</text><text x="44.67" y="323.53" font-size="23.0" textLength="41.96" lengthAdjust="spacingAndGlyphs">−30</text><text x="44.84" y="381.50" font-size="23.0" textLength="41.18" lengthAdjust="spacingAndGlyphs">−35</text><text x="44.86" y="439.60" font-size="23.0" textLength="41.58" lengthAdjust="spacingAndGlyphs">−40</text><text x="44.69" y="496.72" font-size="23.0" textLength="41.26" lengthAdjust="spacingAndGlyphs">−45</text><text x="202.36" y="542.60" font-size="23.0" textLength="25.33" lengthAdjust="spacingAndGlyphs">10</text><text x="228.42" y="534.52" font-size="17.4" textLength="8.00" lengthAdjust="spacingAndGlyphs">2</text><text x="369.36" y="542.60" font-size="23.0" textLength="25.33" lengthAdjust="spacingAndGlyphs">10</text><text x="395.62" y="534.58" font-size="17.4" textLength="7.80" lengthAdjust="spacingAndGlyphs">3</text><text x="536.50" y="542.59" font-size="23.0" textLength="25.00" lengthAdjust="spacingAndGlyphs">10</text><text x="561.40" y="534.65" font-size="17.4" textLength="9.34" lengthAdjust="spacingAndGlyphs">4</text><text x="204.07" y="33.59" font-size="26.5" textLength="261.52" lengthAdjust="spacingAndGlyphs">Magnitude Spectrum</text><text x="259.24" y="572.61" font-size="22.08" textLength="149.68" lengthAdjust="spacingAndGlyphs">Frequency(Hz)</text><text transform="translate(31.69,358.09) rotate(-90)" x="0" y="0" font-size="22.08" textLength="153.86" lengthAdjust="spacingAndGlyphs">Magnitude(dB)</text>
<rect x="302" y="56" width="255" height="67" rx="4.17" fill="#fff" fill-opacity="0.8" stroke="#d6d6d6" stroke-width="2.08"/>
<line x1="307.9" y1="73" x2="354.1" y2="73" stroke="#1f77b4" stroke-width="4.17"/>
<line x1="307.9" y1="104" x2="354.1" y2="104" stroke="#ff7f0e" stroke-opacity="0.7" stroke-width="4.17"/>
<text x="368.20" y="80.53" font-size="22.08" textLength="179.17" lengthAdjust="spacingAndGlyphs">Pred. (smoothed)</text><text x="367.90" y="111.50" font-size="22.08" textLength="154.84" lengthAdjust="spacingAndGlyphs">GT (smoothed)</text>
</svg>
</body></html>
